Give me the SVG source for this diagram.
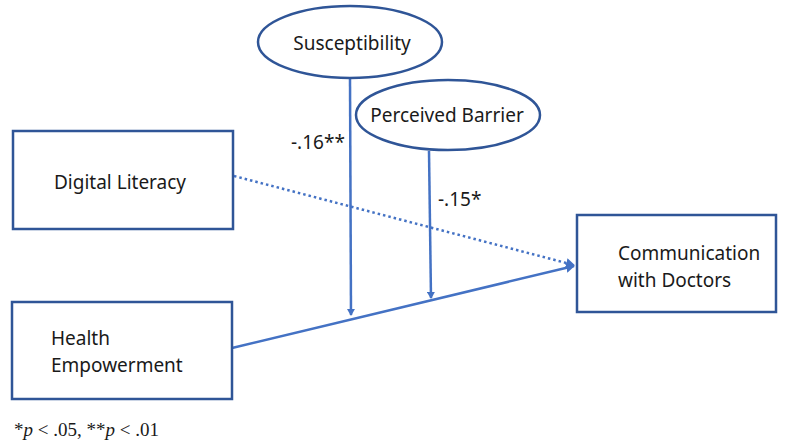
<svg xmlns="http://www.w3.org/2000/svg" width="788" height="442" viewBox="0 0 788 442">
<defs>
<style>
.box{fill:#fff;stroke:#2F5597;stroke-width:2.5}
.ell{fill:#fff;stroke:#2F5597;stroke-width:2.5}
.t{font-family:"Noto Sans","Liberation Sans",sans-serif;font-size:19px;fill:#1a1a1a}
.c{stroke:#4472C4;stroke-width:2.5;fill:none}
.dot{stroke-dasharray:2.5 3}
</style>
<marker id="ah" markerWidth="8" markerHeight="8" refX="6" refY="4" orient="auto" markerUnits="userSpaceOnUse" viewBox="0 0 8 8">
<path d="M0,0 L7,4 L0,8 z" fill="#4472C4"/>
</marker>
<marker id="ahd" markerWidth="10" markerHeight="10" refX="8" refY="5" orient="auto" markerUnits="userSpaceOnUse" viewBox="0 0 10 10">
<path d="M0,0 L9,5 L0,10 z" fill="#4472C4"/>
</marker>
</defs>
<rect width="788" height="442" fill="#fff"/>
<g id="connectors">
<line class="c dot" x1="234" y1="176" x2="574" y2="265" marker-end="url(#ahd)"/>
<line class="c" x1="232" y1="348" x2="574" y2="266" marker-end="url(#ahd)"/>
<line class="c" x1="350" y1="79" x2="351" y2="315" marker-end="url(#ah)"/>
<line class="c" x1="429" y1="151" x2="431" y2="298" marker-end="url(#ah)"/>
<text class="t" x="291" y="149">-.16**</text>
<text class="t" x="438" y="206">-.15*</text>
</g>
<g id="susceptibility">
<ellipse class="ell" cx="350" cy="42" rx="92" ry="36"/>
<text class="t" x="352" y="50" text-anchor="middle">Susceptibility</text>
</g>
<g id="perceived-barrier">
<ellipse class="ell" cx="448" cy="115" rx="92" ry="35"/>
<text class="t" x="447" y="122" text-anchor="middle">Perceived Barrier</text>
</g>
<g id="digital-literacy">
<rect class="box" x="13" y="131" width="220" height="98"/>
<text class="t" x="120" y="189" text-anchor="middle">Digital Literacy</text>
</g>
<g id="health-empowerment">
<rect class="box" x="12" y="302" width="220" height="97"/>
<text class="t" x="51" y="345">Health</text>
<text class="t" x="51" y="372">Empowerment</text>
</g>
<g id="communication">
<rect class="box" x="577" y="215" width="199" height="97"/>
<text class="t" x="618" y="260">Communication</text>
<text class="t" x="618" y="287">with Doctors</text>
</g>
<text x="14" y="436" font-family="Liberation Serif,serif" font-size="19" fill="#1a1a1a">*<tspan font-style="italic">p</tspan> &lt; .05, **<tspan font-style="italic">p</tspan> &lt; .01</text>
</svg>
